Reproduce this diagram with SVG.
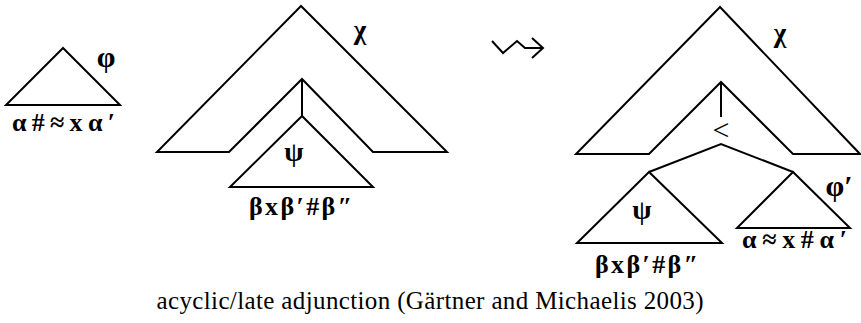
<svg xmlns="http://www.w3.org/2000/svg" width="861" height="323" viewBox="0 0 861 323">
<style>
.ln{fill:none;stroke:#000;stroke-width:2;stroke-linejoin:miter;stroke-linecap:butt}
text{font-family:"Liberation Serif",serif;fill:#000}
.g{font-weight:bold;text-anchor:middle}
.lab{font-weight:bold;font-size:26px}
.cap{font-size:25px;text-anchor:middle}
</style>
<rect width="861" height="323" fill="#fff"/>
<g id="tree-phi">
<path class="ln" d="M63,48 L6,105 L120,105 Z"/>
<text class="g" x="106" y="67" style="font-size:30px">φ</text>
<text class="lab" x="12" y="131" textLength="103" lengthAdjust="spacing">α#≈xα′</text>
</g>
<g id="tree-chi-left">
<path class="ln" d="M301,6 L157,152 L229,152 L302,79 L373,152 L447,152 Z"/>
<text class="g" x="360" y="39" style="font-size:27px">χ</text>
</g>
<g id="tree-psi-left">
<path class="ln" d="M302,116 L230,187 L373,187 Z"/>
<text class="g" x="294" y="161" style="font-size:28px">ψ</text>
<text class="lab" x="249" y="215" textLength="103" lengthAdjust="spacing">βxβ′#β″</text>
</g>
<g id="arrow">
<path class="ln" d="M492,41 L503,53 L517,41 L525,48 L542,48"/>
<path class="ln" d="M532,38 L543,48 L532,58"/>
</g>
<g id="tree-chi-right">
<path class="ln" d="M720,7 L576,154 L649,154 L721,82 L793,154 L860,154 Z"/>
<text class="g" x="780" y="42" style="font-size:27px">χ</text>
</g>
<g id="node-lt">
<text x="721" y="140" style="font-size:30px;text-anchor:middle">&lt;</text>
</g>
<g id="tree-psi-right">
<path class="ln" d="M649,172 L577,243 L722,243 Z"/>
<text class="g" x="642" y="219" style="font-size:28px">ψ</text>
<text class="lab" x="595" y="273" textLength="103" lengthAdjust="spacing">βxβ′#β″</text>
</g>
<g id="tree-phi-prime">
<path class="ln" d="M793,172 L737,228 L850,228 Z"/>
<text class="g" x="839" y="196" style="font-size:30px">φ′</text>
<text class="lab" x="742" y="248" textLength="105" lengthAdjust="spacing">α≈x#α′</text>
</g>
<g id="connectors">
<path class="ln" d="M302,79 L302,116"/>
<path class="ln" d="M721,82 L721,117"/>
<path class="ln" d="M649,172 L721,144 L793,172"/>
</g>
<text class="cap" x="430" y="309" textLength="547" lengthAdjust="spacing">acyclic/late adjunction (Gärtner and Michaelis 2003)</text>
</svg>
